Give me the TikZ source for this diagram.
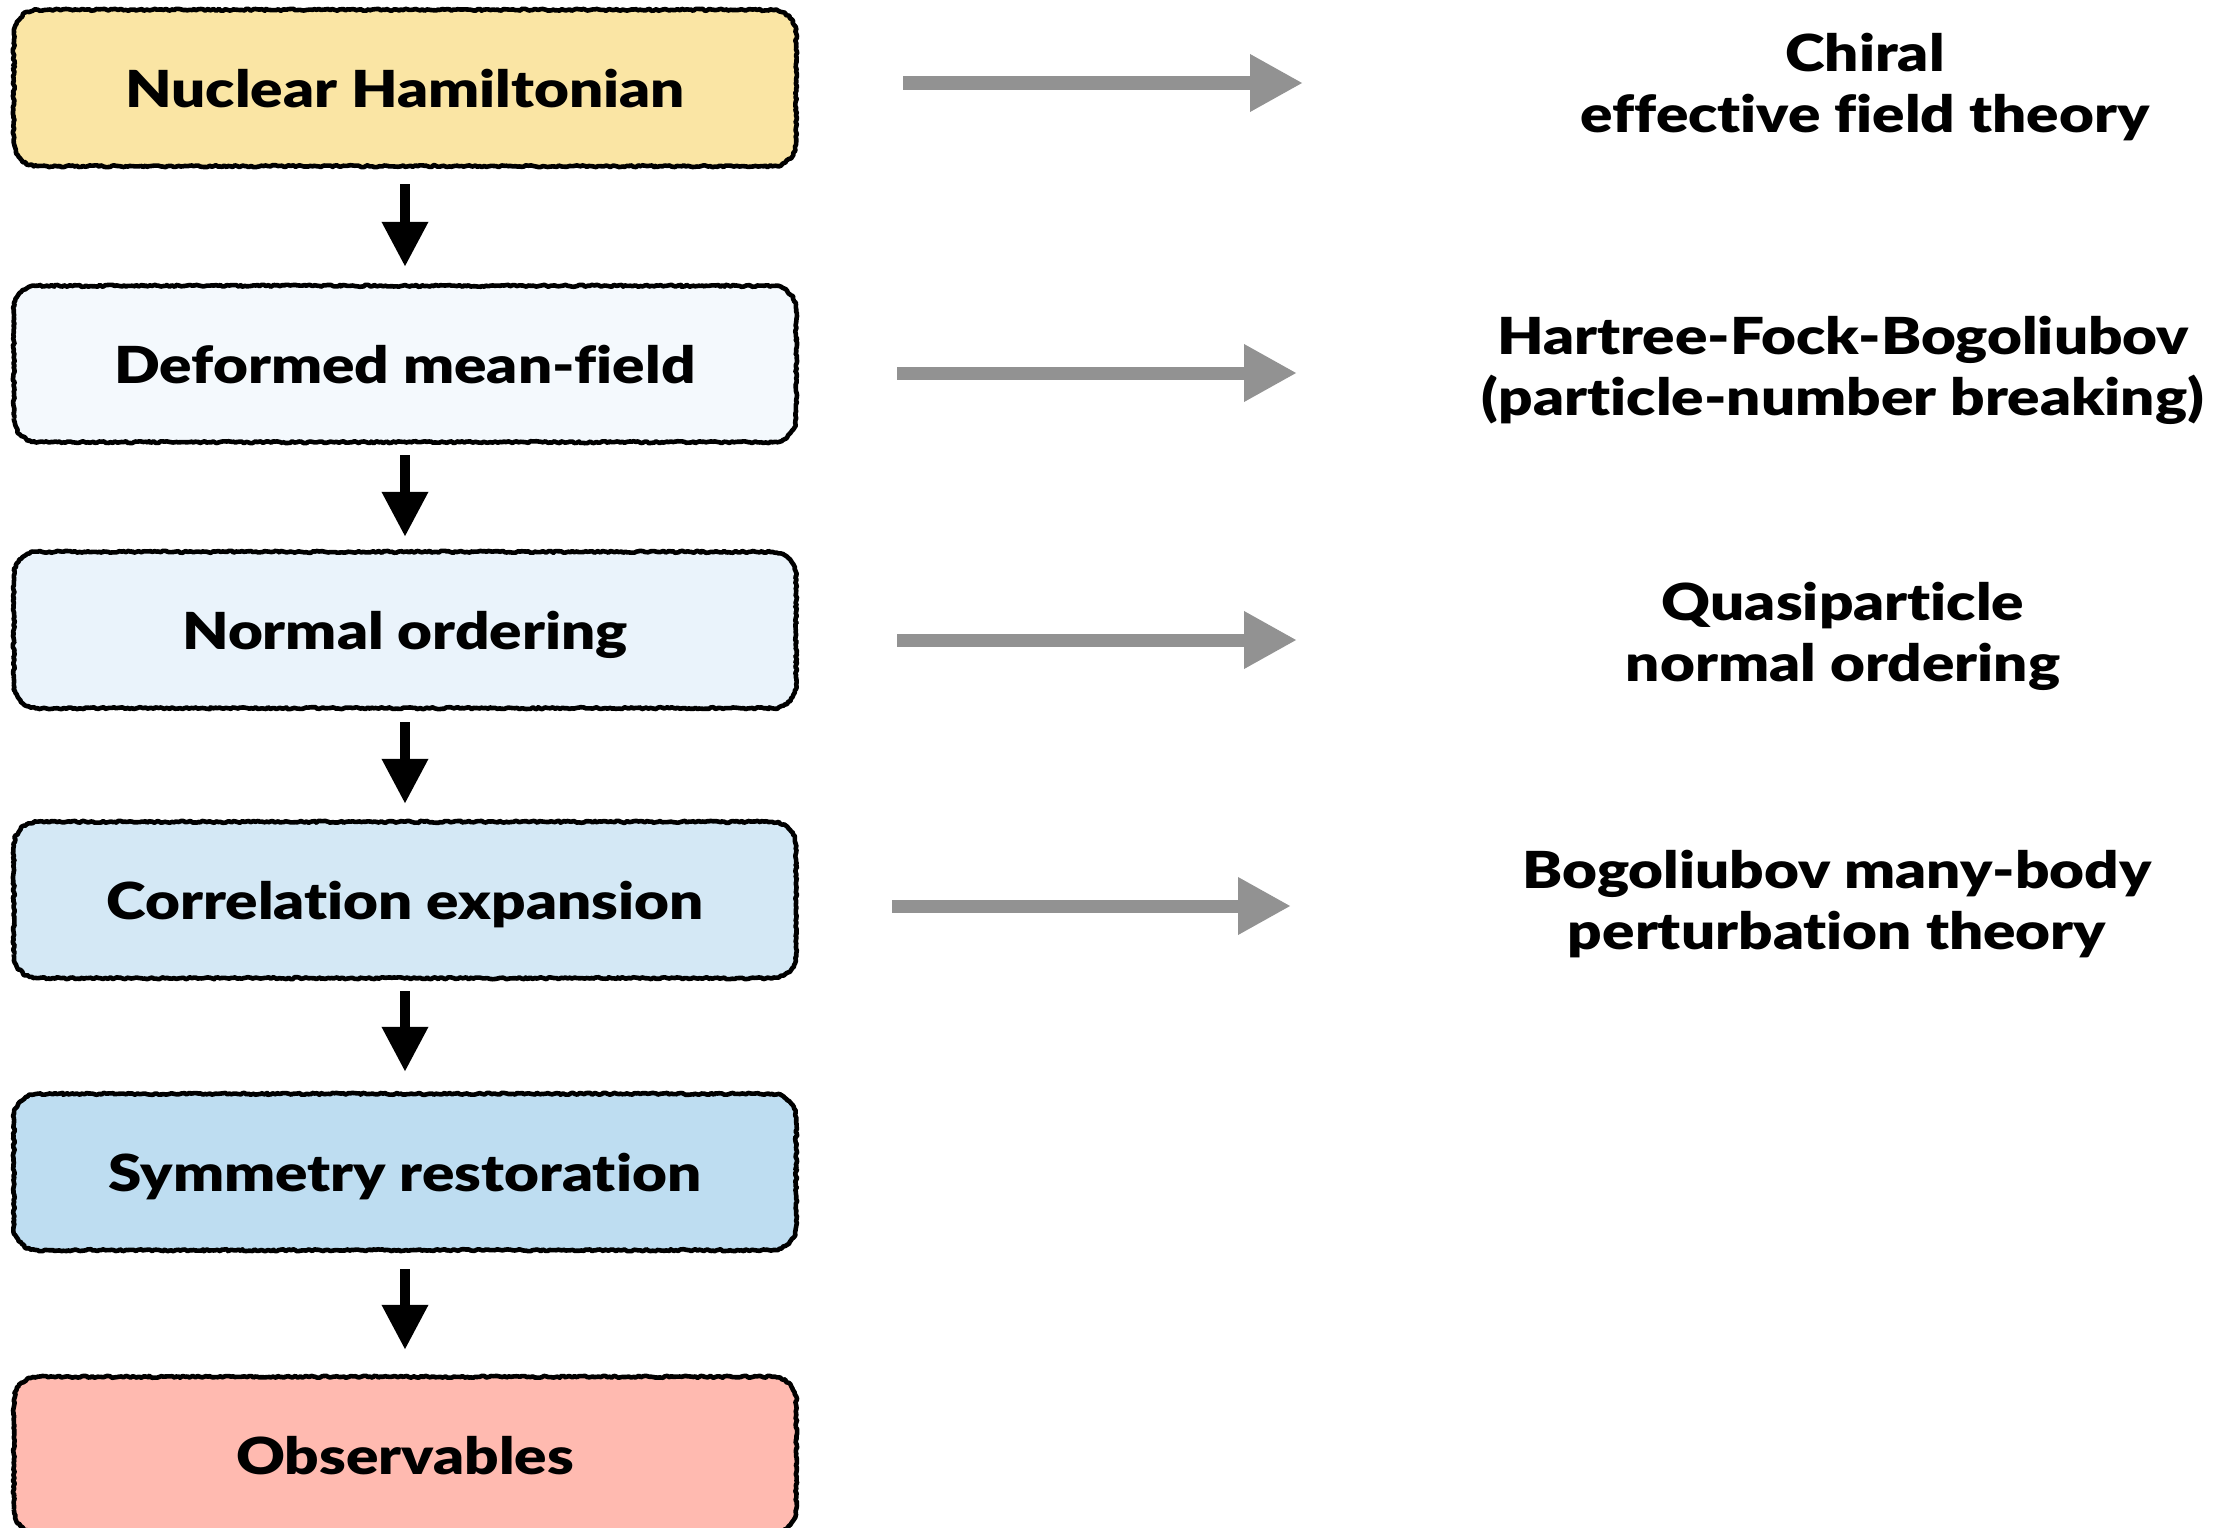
\documentclass[tikz,border=0pt]{standalone}
\usepackage{fontspec}
\setmainfont{Lato}[BoldFont={Lato Black},
  BoldFeatures={FakeStretch=1.18, Ligatures={NoCommon}}]
\usetikzlibrary{arrows.meta,decorations.pathmorphing}

\definecolor{hamfill}{HTML}{FAE5A4}
\definecolor{mffill}{HTML}{F4F9FD}
\definecolor{nofill}{HTML}{EAF3FB}
\definecolor{corrfill}{HTML}{D4E8F5}
\definecolor{symfill}{HTML}{BEDDF1}
\definecolor{obsfill}{HTML}{FFBAB0}
\definecolor{linkgray}{HTML}{929292}

\tikzset{
  stage/.style={rounded corners=24pt, minimum width=782pt, minimum height=156pt,
    inner sep=0pt, text height=38pt, text depth=0pt,
    font=\fontsize{51}{61}\selectfont\bfseries},
  sketchline/.style={draw=black, line width=4.6pt, line join=round,
    decoration={random steps, segment length=2.2pt, amplitude=1pt}},
  flow/.style={-{Triangle[width=44pt,length=45pt]}, line width=10pt, black},
  link/.style={-{Triangle[width=54pt,length=53pt]}, line width=13pt, linkgray},
  note/.style={align=center, font=\fontsize{51}{61}\selectfont\bfseries}
}

\begin{document}
\begin{tikzpicture}[x=1pt, y=-1pt]
\pgfmathsetseed{7}
\useasboundingbox (0,0) rectangle (2230,1528);

% left column: the calculation chain
\node[stage, fill=hamfill]  (ham)  at (405,88)   {Nuclear Hamiltonian};
\node[stage, fill=mffill]   (mf)   at (405,364)  {Deformed mean-field};
\node[stage, fill=nofill]   (no)   at (405,630)  {Normal ordering};
\node[stage, fill=corrfill] (corr) at (405,900)  {Correlation expansion};
\node[stage, fill=symfill]  (sym)  at (405,1172) {Symmetry restoration};
\node[stage, fill=obsfill]  (obs)  at (405,1455) {Observables};

% hand-drawn looking outlines
\foreach \n in {ham,mf,no,corr,sym,obs}
  \draw[sketchline] decorate {[rounded corners=24pt] (\n.south west) rectangle (\n.north east)};

\draw[flow] ([yshift=-18pt]ham.south)  -- ([yshift=19pt]mf.north);
\draw[flow] ([yshift=-13pt]mf.south)   -- ([yshift=15pt]no.north);
\draw[flow] ([yshift=-14pt]no.south)   -- ([yshift=18pt]corr.north);
\draw[flow] ([yshift=-13pt]corr.south) -- ([yshift=22pt]sym.north);
\draw[flow] ([yshift=-19pt]sym.south)  -- ([yshift=27pt]obs.north);

% right column: the concrete choices
\node[note] (chiral) at (1865,87)  {Chiral\\effective field theory};
\node[note] (hfb)    at (1843,370) {Hartree-Fock-Bogoliubov\\(particle-number breaking)};
\node[note] (qp)     at (1843,636) {Quasiparticle\\normal ordering};
\node[note] (bmbpt)  at (1837,904) {Bogoliubov many-body\\perturbation theory};

\coordinate (l1s) at (903,83);  \coordinate (l1e) at (1303,83);
\coordinate (l2s) at (897,373); \coordinate (l2e) at (1297,373);
\coordinate (l3s) at (897,640); \coordinate (l3e) at (1297,640);
\coordinate (l4s) at (892,906); \coordinate (l4e) at (1291,906);

\draw[link] (l1s) -- (l1e);
\draw[link] (l2s) -- (l2e);
\draw[link] (l3s) -- (l3e);
\draw[link] (l4s) -- (l4e);
\end{tikzpicture}
\end{document}
